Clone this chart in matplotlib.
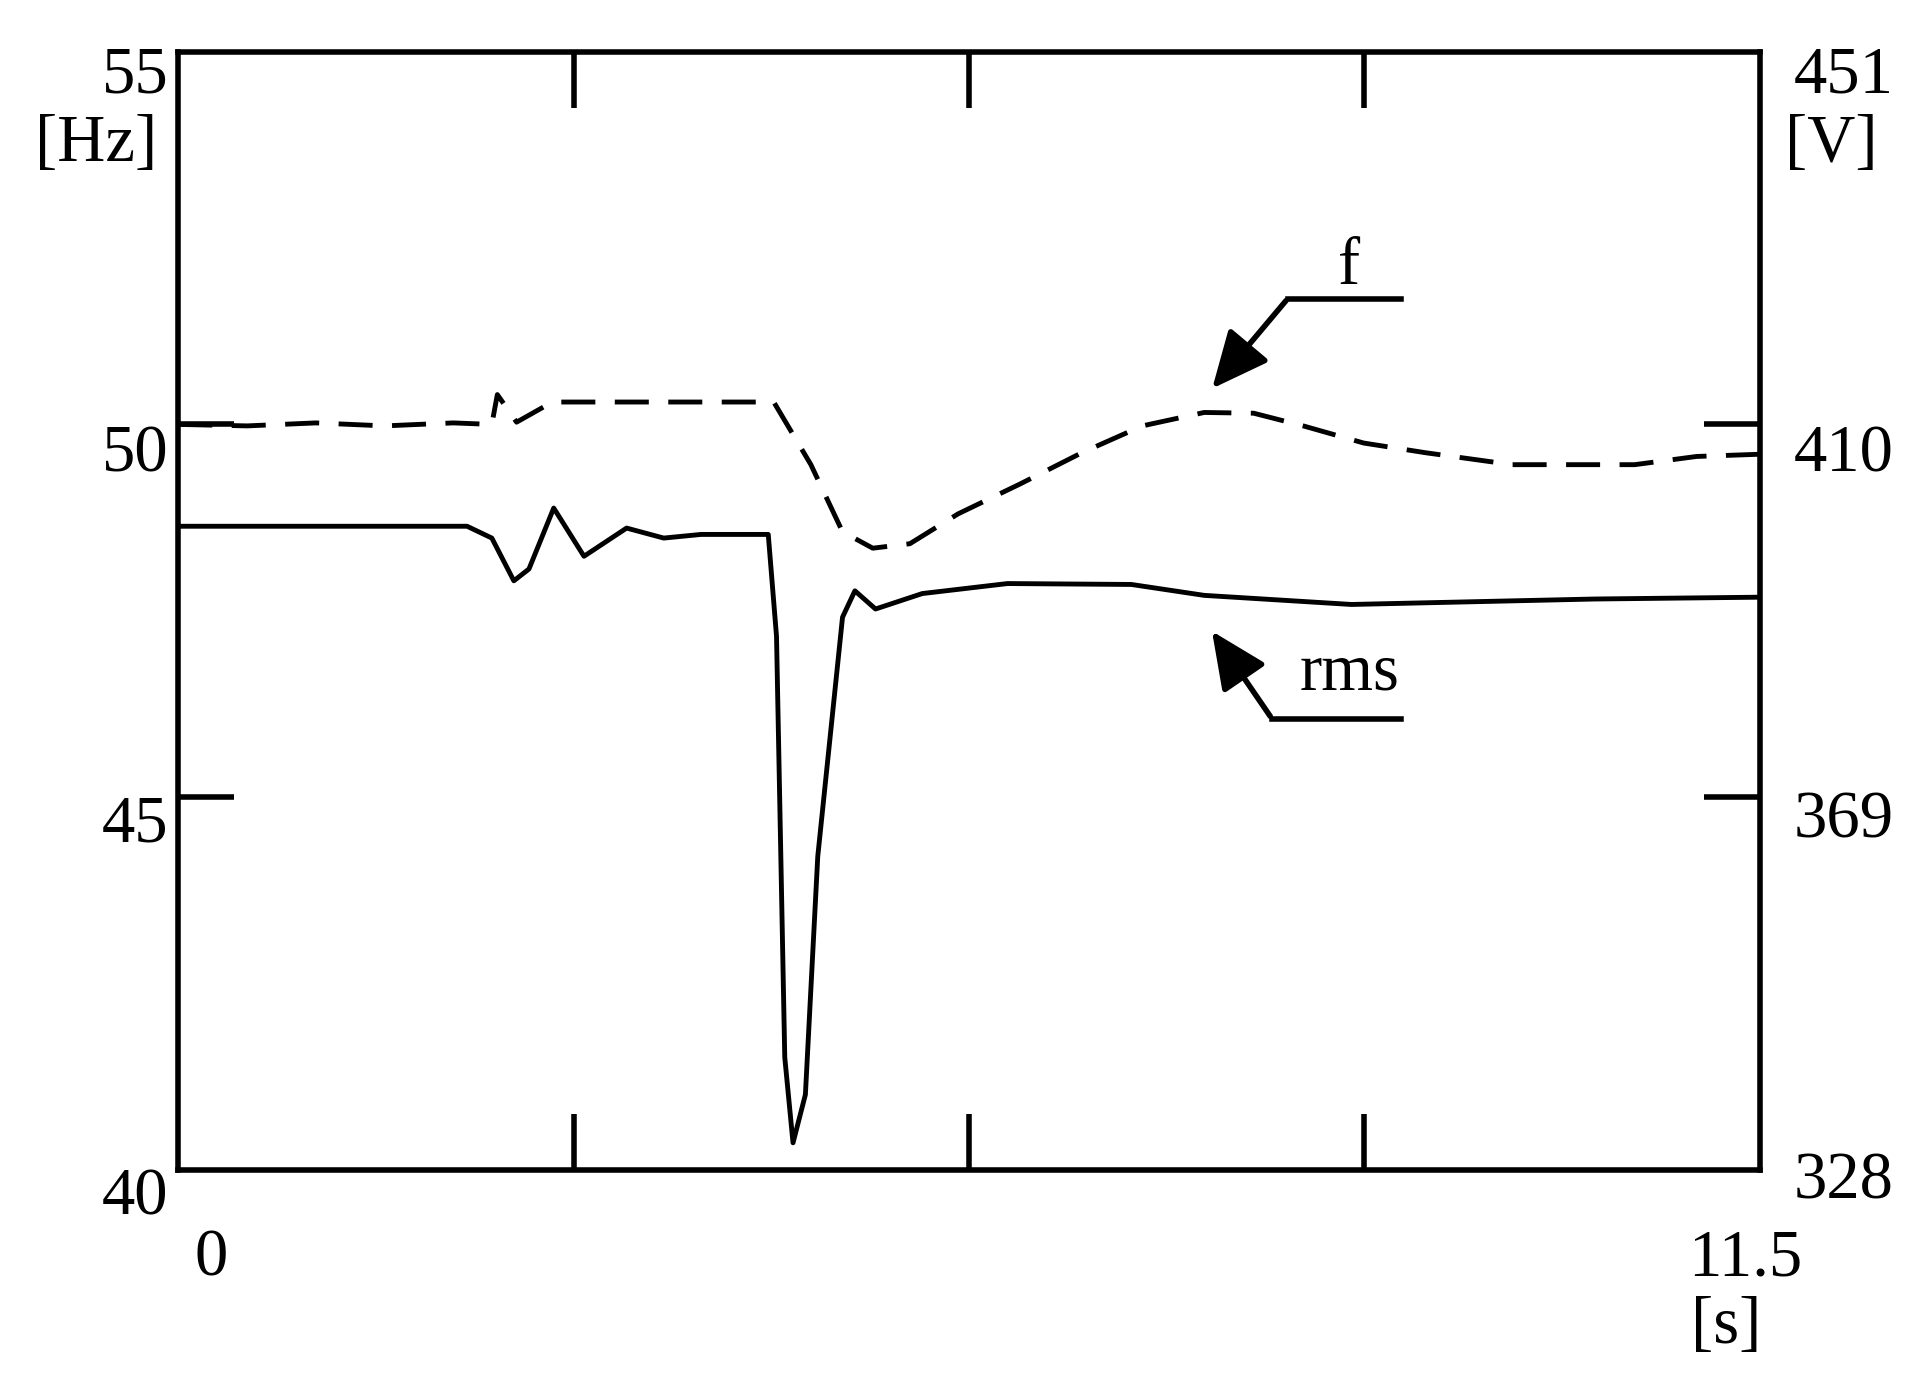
import matplotlib
matplotlib.use("Agg")
import matplotlib.pyplot as plt

# frequency f [Hz] (dashed)
t_f = [0, 0.5, 1.0, 1.5, 2.0, 2.28, 2.32, 2.46, 2.72, 3.5, 4.33, 4.6, 4.83, 5.05, 5.32,
       5.67, 6.12, 6.57, 7.01, 7.46, 7.82, 8.18, 8.62, 9.07, 9.7, 10.59, 11.04, 11.5]
f_hz = [50.0, 49.98, 50.02, 49.98, 50.02, 50.0, 50.4, 50.03, 50.3, 50.3, 50.3, 49.46, 48.56,
        48.34, 48.4, 48.8, 49.2, 49.62, 49.98, 50.16, 50.15, 49.98, 49.75, 49.62, 49.46,
        49.46, 49.57, 49.6]

# rms voltage [V] (solid)
t_v = [0, 1.0, 2.1, 2.28, 2.44, 2.55, 2.73, 2.95, 3.26, 3.53, 3.8, 4.29, 4.35, 4.41, 4.47,
       4.56, 4.65, 4.83, 4.92, 5.07, 5.41, 6.03, 6.93, 7.46, 8.53, 10.3, 11.5]
v_rms = [398.8, 398.8, 398.8, 397.5, 392.8, 394.1, 400.8, 395.5, 398.6, 397.5, 397.9, 397.9,
         386.7, 340.4, 331.0, 336.3, 362.5, 388.8, 391.7, 389.7, 391.4, 392.5, 392.4, 391.2,
         390.2, 390.8, 391.0]

plt.rcParams['font.family'] = ['Liberation Serif', 'DejaVu Serif']

fig = plt.figure(figsize=(19.17, 13.93), dpi=100)
ax = fig.add_axes([0.093, 0.16, 0.825, 0.803])
ax.plot(t_f, f_hz, color='black', lw=3.5, ls=(0, (7, 4)))
ax.set_xlim(0, 11.5)
ax.set_ylim(40, 55)
ax.set_xticks([11.5 / 4, 11.5 / 2, 11.5 * 3 / 4])
ax.set_yticks([45, 50])
ax.tick_params(direction='in', length=40, width=4, top=True,
               labelbottom=False, labelleft=False)
for s in ax.spines.values():
    s.set_linewidth(4)

ax2 = ax.twinx()
ax2.plot(t_v, v_rms, color='black', lw=3.5)
ax2.set_ylim(328, 451)
# right ticks at same heights as 45 and 50 Hz
ax2.set_yticks([328 + 123 * 5 / 15, 328 + 123 * 10 / 15])
ax2.tick_params(direction='in', length=40, width=4, labelright=False)
for s in ax2.spines.values():
    s.set_visible(False)

# helper: positions measured on a 1560x1134 view of the reference
def fp(x, y):
    return (x / 1560, 1 - y / 1134)

labels = [("55", 110, 62), ("[Hz]", 78, 118), ("50", 110, 370), ("45", 110, 672),
          ("40", 110, 975), ("451", 1500, 62), ("[V]", 1490, 118), ("410", 1500, 370),
          ("369", 1500, 668), ("328", 1500, 962), ("0", 172, 1025), ("11.5", 1420, 1025),
          ("[s]", 1405, 1080), ("f", 1098, 218), ("rms", 1098, 548)]
for txt, x, y in labels:
    fig.text(*fp(x, y), txt, fontsize=48, ha='center', va='center')

# leader lines with arrows
for pts in ([(1140, 243), (1048, 243)], [(1140, 585), (1035, 585)]):
    (x1, y1), (x2, y2) = pts
    fig.add_artist(plt.Line2D([fp(x1, y1)[0], fp(x2, y2)[0]], [fp(x1, y1)[1], fp(x2, y2)[1]],
                              color='black', lw=4, transform=fig.transFigure))
ax.annotate("", xy=fp(985, 318), xycoords='figure fraction', xytext=fp(1048, 243),
            textcoords='figure fraction',
            arrowprops=dict(arrowstyle='-|>,head_length=3.5,head_width=1.6', lw=4, color='black'))
ax.annotate("", xy=fp(985, 512), xycoords='figure fraction', xytext=fp(1035, 585),
            textcoords='figure fraction',
            arrowprops=dict(arrowstyle='-|>,head_length=3.5,head_width=1.6', lw=4, color='black'))

fig.savefig("out.png", dpi=100, facecolor='white')
